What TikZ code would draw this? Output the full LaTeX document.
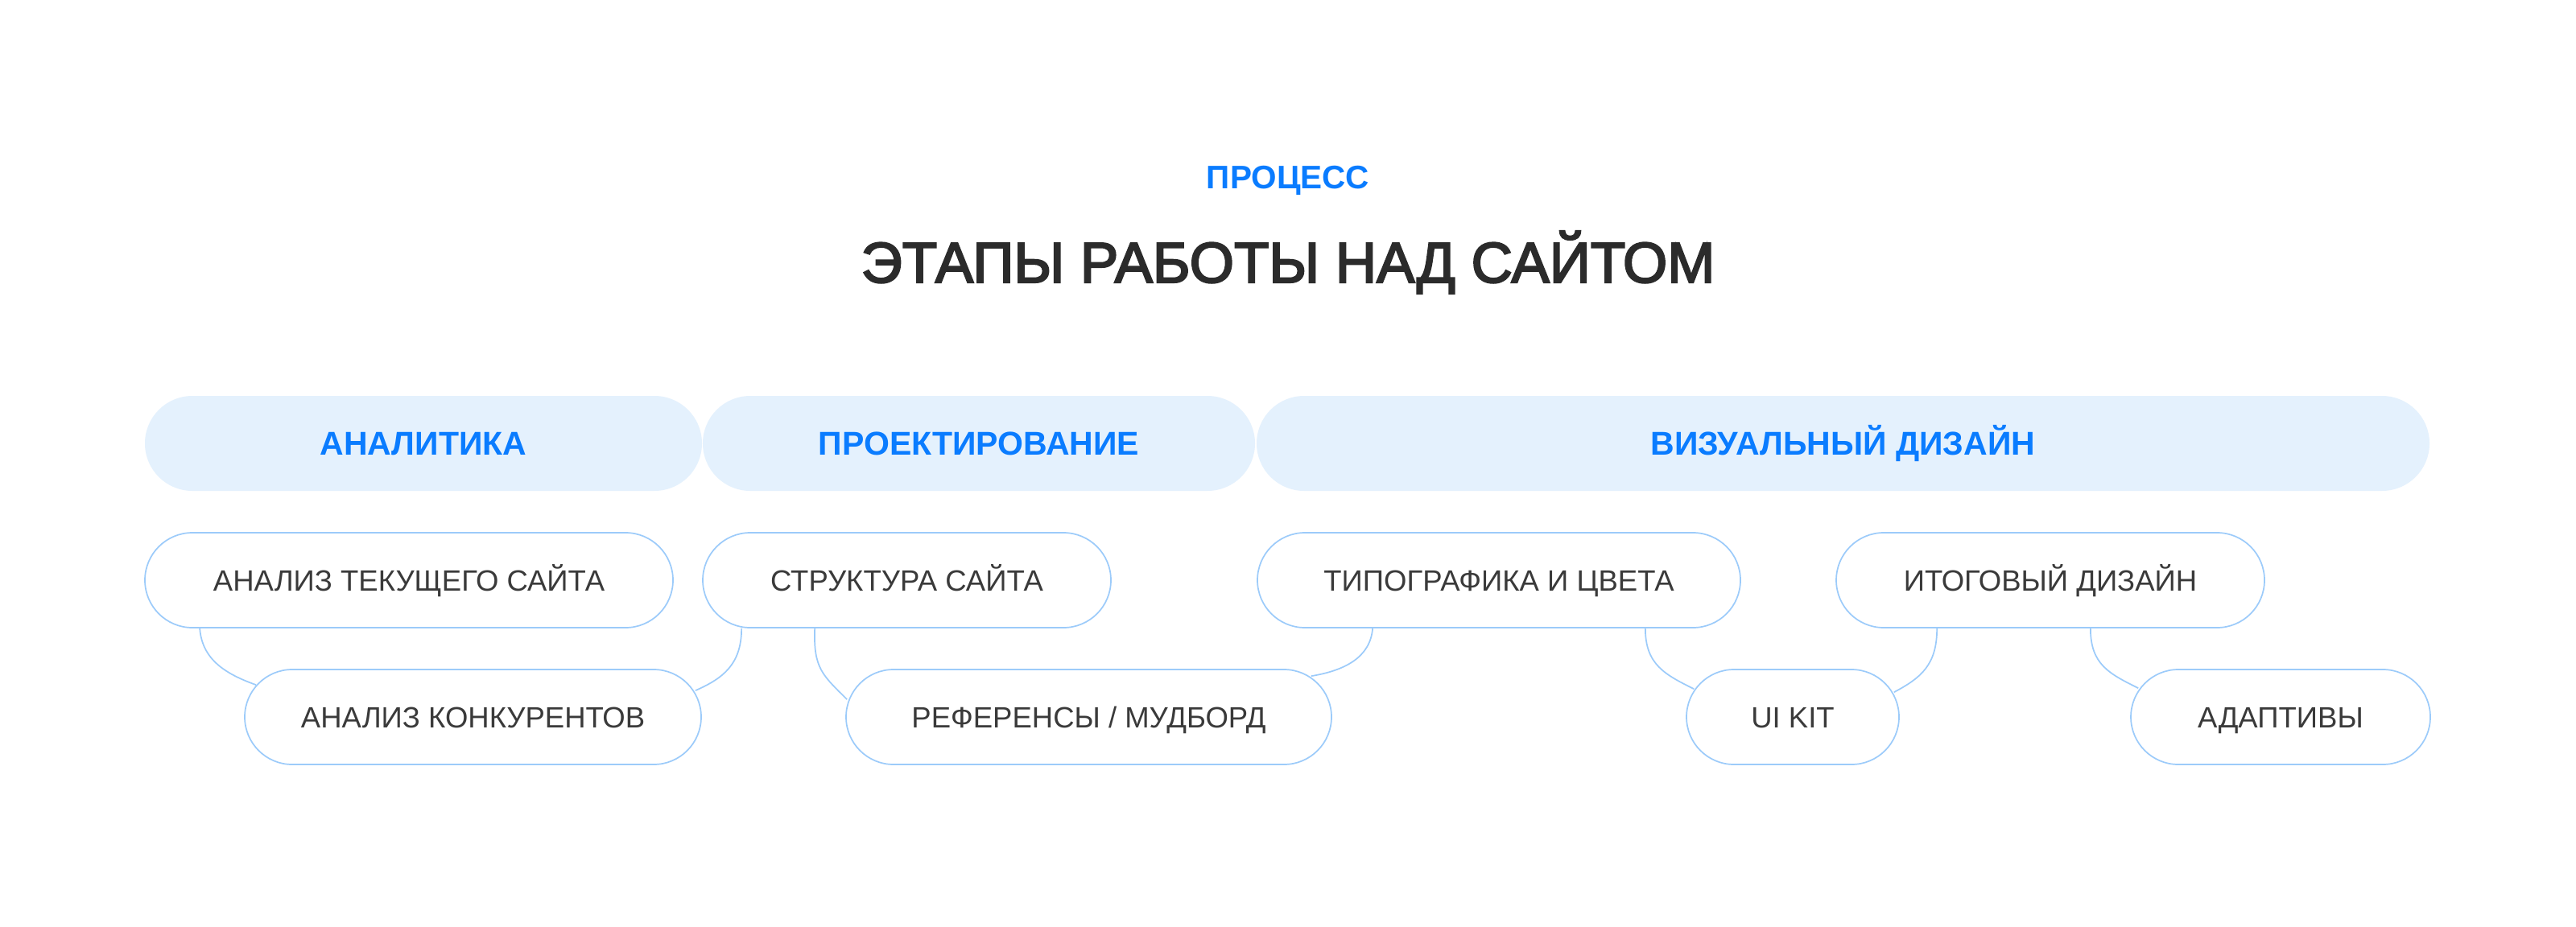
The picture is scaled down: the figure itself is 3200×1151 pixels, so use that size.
\documentclass[tikz,border=0pt]{standalone}
\usepackage{fontspec}
\setmainfont{Liberation Sans}
\newfontfamily\titlefont[FakeBold=3]{Liberation Sans}
\definecolor{pillfill}{HTML}{E4F1FD}
\definecolor{accent}{HTML}{0A7CFF}
\definecolor{outline}{HTML}{9CCBFA}
\definecolor{txt}{HTML}{3A3A3A}
\definecolor{ttl}{HTML}{2B2B2B}
\tikzset{
  headpill/.style={rectangle, rounded corners=59pt, fill=pillfill, draw=none,
    minimum height=118pt, inner sep=0pt, text=accent, text height=29.3pt, text depth=0pt,
    font=\fontsize{41}{44}\selectfont\bfseries},
  itempill/.style={rectangle, rounded corners=59pt, fill=white, draw=outline, line width=1.7pt,
    minimum height=118pt, inner sep=0pt, text=txt, text height=26.1pt, text depth=0pt,
    font=\fontsize{36.5}{40}\selectfont},
  link/.style={draw=outline, line width=1.7pt}
}
\begin{document}
\begin{tikzpicture}[x=1pt,y=-1pt]
\useasboundingbox (0,0) rectangle (3200,1151);
\fill[white] (0,0) rectangle (3200,1151);

\node[text=accent, text height=29pt, text depth=0pt, inner sep=0pt, font=\fontsize{40.5}{46}\selectfont\bfseries] (kicker) at (1600,220) {ПРОЦЕСС};
\node[text=ttl, text height=51pt, text depth=0pt, inner sep=0pt, font=\fontsize{71}{76}\titlefont] (title) at (1600,325.5) {ЭТАПЫ РАБОТЫ НАД САЙТОМ};

\node[headpill, minimum width=692pt] (h1) at (526,551) {АНАЛИТИКА};
\node[headpill, minimum width=686pt] (h2) at (1216,551) {ПРОЕКТИРОВАНИЕ};
\node[headpill, minimum width=1457pt] (h3) at (2289.5,551) {ВИЗУАЛЬНЫЙ ДИЗАЙН};

% invisible placeholders for item pills
\path
  (508,721) node[itempill, minimum width=656pt, draw=none, fill=none] (r1a) {}
  (587.5,891) node[itempill, minimum width=567pt, draw=none, fill=none] (r2a) {}
  (1126.5,721) node[itempill, minimum width=507pt, draw=none, fill=none] (r1b) {}
  (1352.5,891) node[itempill, minimum width=603pt, draw=none, fill=none] (r2b) {}
  (1862,721) node[itempill, minimum width=600pt, draw=none, fill=none] (r1c) {}
  (2227,891) node[itempill, minimum width=264pt, draw=none, fill=none] (r2c) {}
  (2547,721) node[itempill, minimum width=532pt, draw=none, fill=none] (r1d) {}
  (2833,891) node[itempill, minimum width=372pt, draw=none, fill=none] (r2d) {};

% connectors
\draw[link] ([xshift=69pt]r1a.south west) .. controls +(3,40) and +(-36,-13) .. ([xshift=15pt,yshift=-20pt]r2a.north west);
\draw[link] ([xshift=49pt]r1b.south west) .. controls +(0,45) and +(34,-15) .. ([xshift=-8pt,yshift=-27pt]r2a.north east);
\draw[link] ([xshift=140pt]r1b.south west) .. controls +(-2,50) and +(-30,-30) .. ([xshift=2pt,yshift=-38pt]r2b.north west);
\draw[link] ([xshift=144pt]r1c.south west) .. controls +(-3,36) and +(42,-7) .. ([xshift=-26pt,yshift=-9pt]r2b.north east);
\draw[link] ([xshift=-119pt]r1c.south east) .. controls +(0,45) and +(-36,-18) .. ([xshift=10pt,yshift=-25pt]r2c.north west);
\draw[link] ([xshift=126pt]r1d.south west) .. controls +(0,45) and +(34,-18) .. ([xshift=-7pt,yshift=-29pt]r2c.north east);
\draw[link] ([xshift=-217pt]r1d.south east) .. controls +(0,45) and +(-36,-18) .. ([xshift=10pt,yshift=-24pt]r2d.north west);

% visible pills
\node[itempill, minimum width=656pt] at (r1a) {АНАЛИЗ ТЕКУЩЕГО САЙТА};
\node[itempill, minimum width=567pt] at (r2a) {АНАЛИЗ КОНКУРЕНТОВ};
\node[itempill, minimum width=507pt] at (r1b) {СТРУКТУРА САЙТА};
\node[itempill, minimum width=603pt] at (r2b) {РЕФЕРЕНСЫ / МУДБОРД};
\node[itempill, minimum width=600pt] at (r1c) {ТИПОГРАФИКА И ЦВЕТА};
\node[itempill, minimum width=264pt] at (r2c) {UI KIT};
\node[itempill, minimum width=532pt] at (r1d) {ИТОГОВЫЙ ДИЗАЙН};
\node[itempill, minimum width=372pt] at (r2d) {АДАПТИВЫ};
\end{tikzpicture}
\end{document}
